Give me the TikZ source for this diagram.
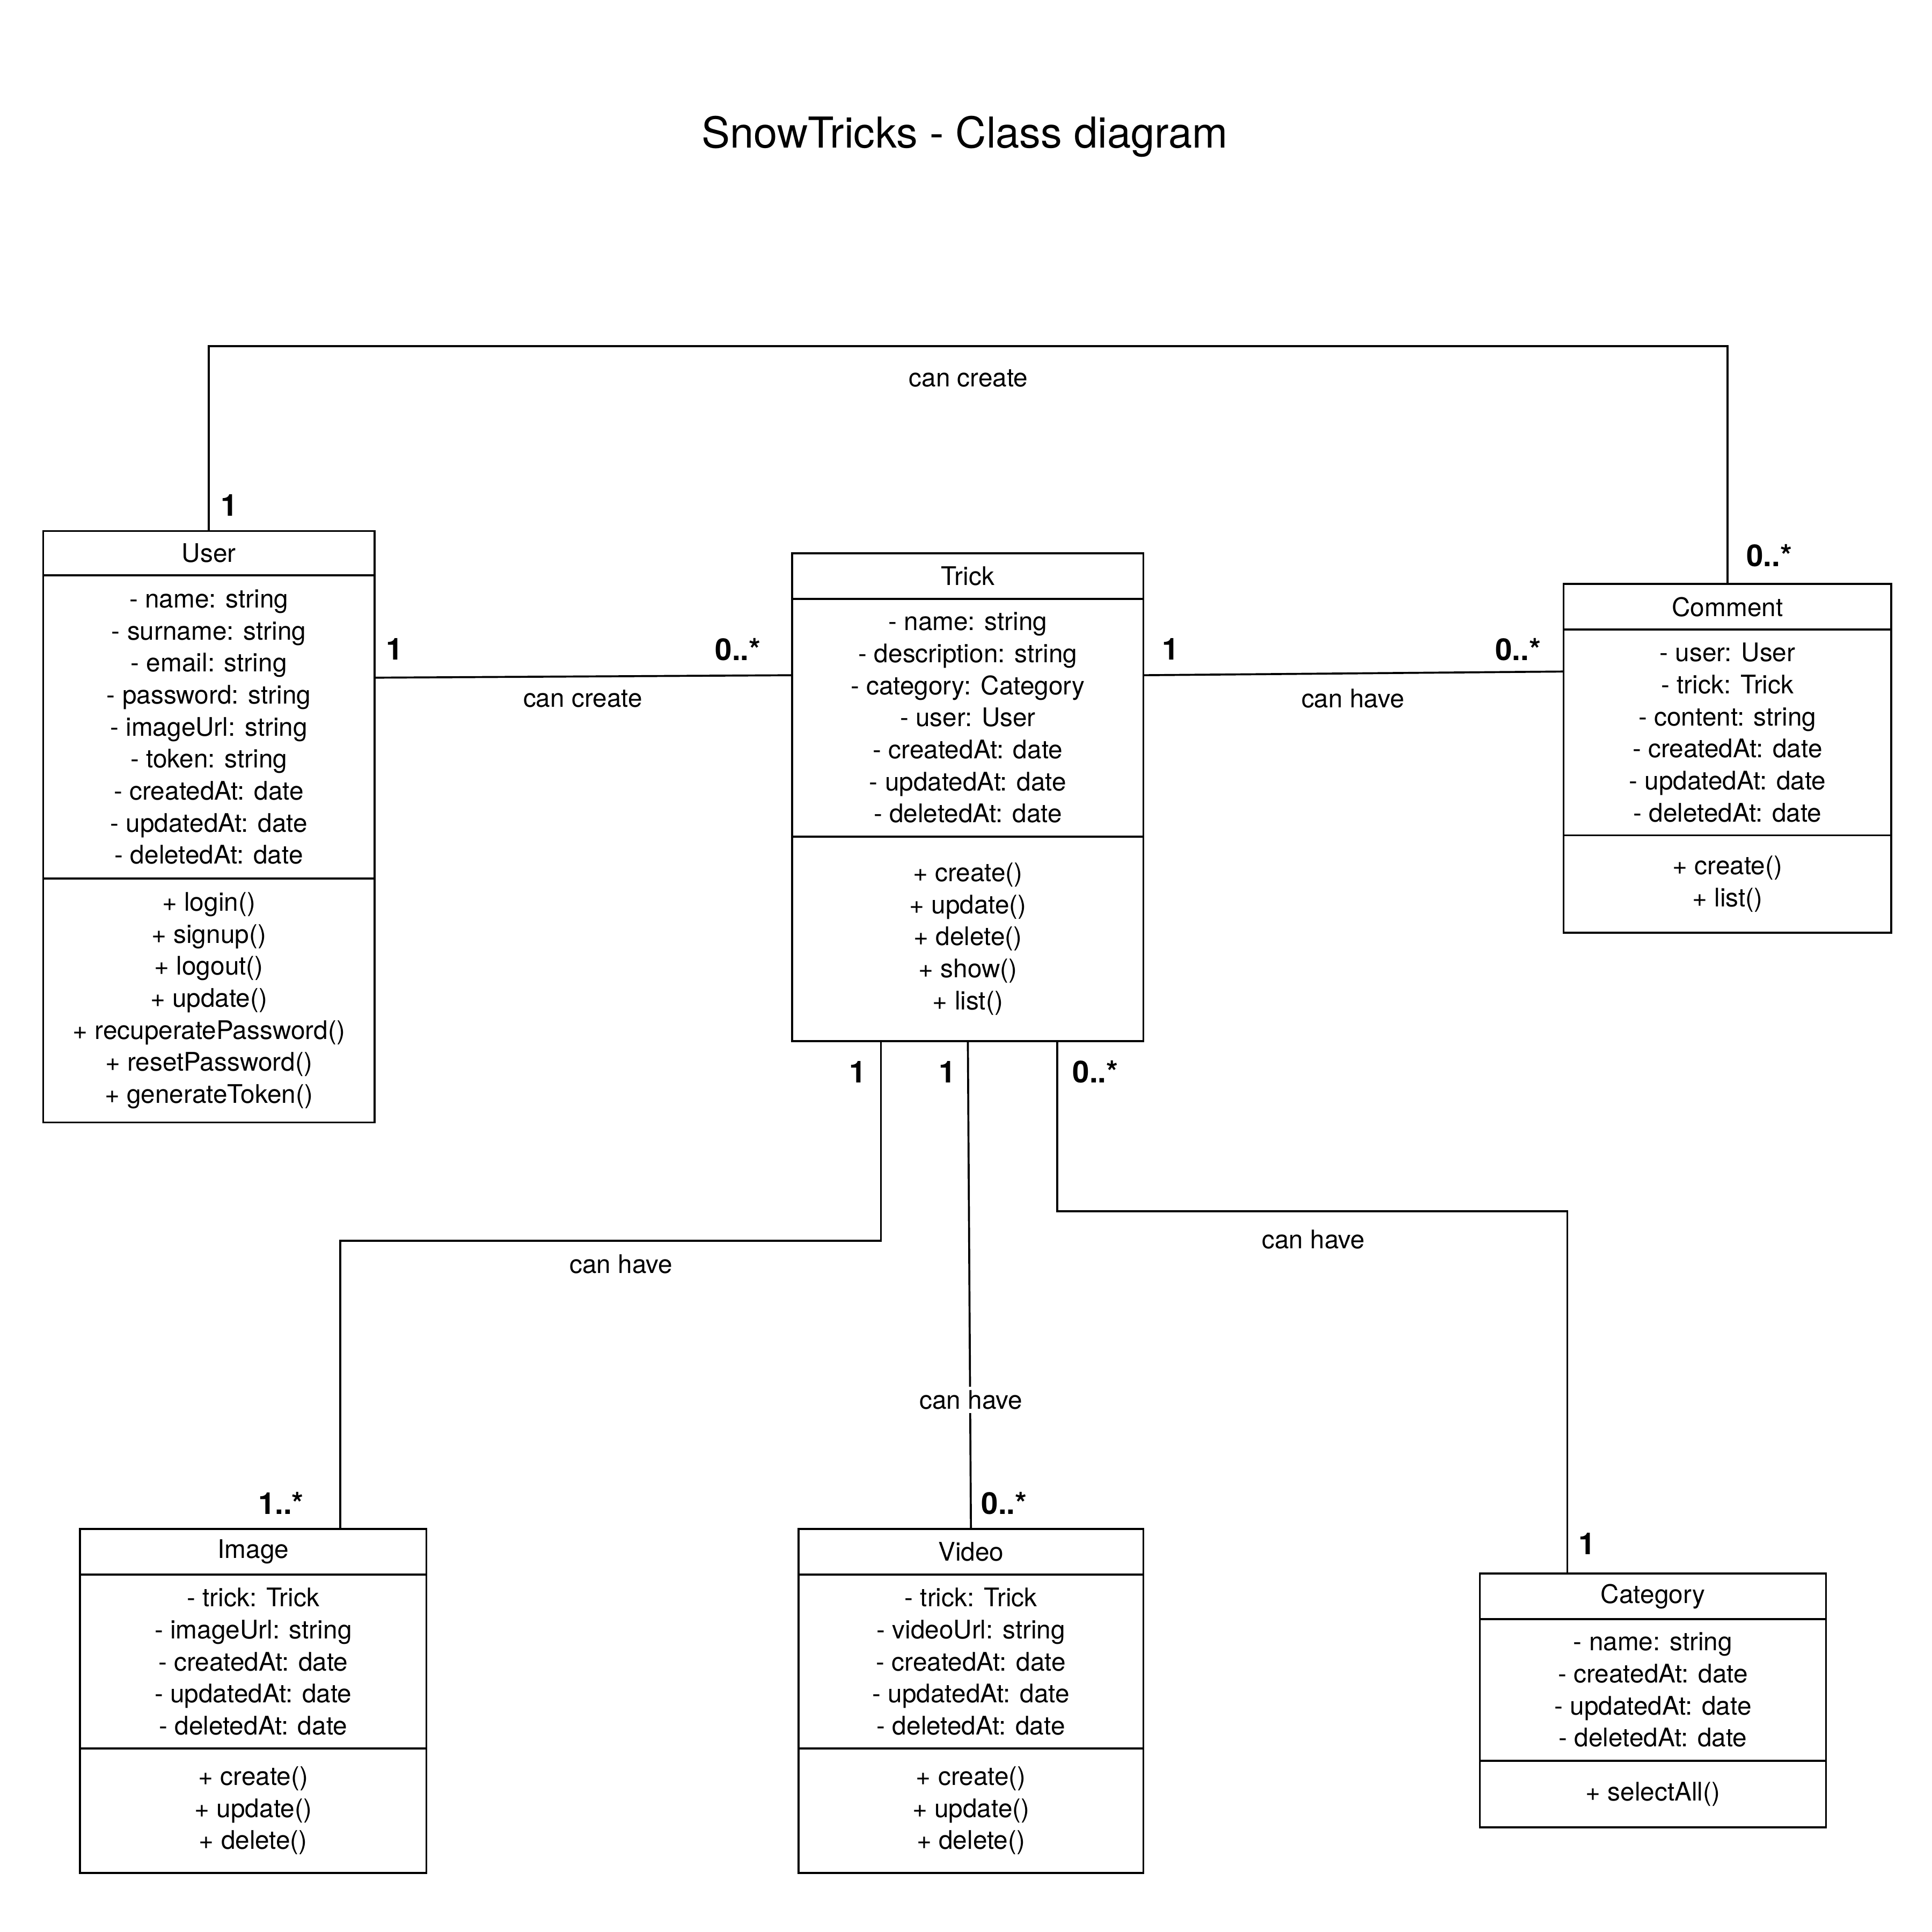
\documentclass[tikz,border=0pt]{standalone}
\usepackage{fontspec}
\setmainfont{TeX Gyre Heros}
\begin{document}
\begin{tikzpicture}[x=0.5pt,y=-0.5pt]
\tikzset{
  box/.style={draw, line width=0.8pt, anchor=north west, inner sep=0pt, outer sep=0pt, align=center,
    font=\fontsize{10.4pt}{13pt}\selectfont},
  mult/.style={font=\fontsize{12.3pt}{14pt}\selectfont\bfseries, inner sep=0pt},
  lbl/.style={font=\fontsize{10.4pt}{13pt}\selectfont, inner sep=1.5pt},
  conn/.style={line width=0.8pt},
}
\useasboundingbox (0,0) rectangle (1568,1568);

% Title
\node[font=\fontsize{17.3pt}{20pt}\selectfont] (title) at (783,111) {SnowTricks - Class diagram};

% User
\node[box, minimum width=134.5pt, minimum height=18pt] (userH) at (35,431) {User};
\node[box, minimum width=134.5pt, minimum height=123pt] (userA) at (userH.south west)
  {- name: string\\- surname: string\\- email: string\\- password: string\\- imageUrl: string\\- token: string\\- createdAt: date\\- updatedAt: date\\- deletedAt: date};
\node[box, minimum width=134.5pt, minimum height=99pt] (userM) at (userA.south west)
  {+ login()\\+ signup()\\+ logout()\\+ update()\\+ recuperatePassword()\\+ resetPassword()\\+ generateToken()};

% Trick
\node[box, minimum width=142.5pt, minimum height=18.5pt] (trickH) at (643,449) {Trick};
\node[box, minimum width=142.5pt, minimum height=96.5pt] (trickA) at (trickH.south west)
  {- name: string\\- description: string\\- category: Category\\- user: User\\- createdAt: date\\- updatedAt: date\\- deletedAt: date};
\node[box, minimum width=142.5pt, minimum height=83pt] (trickM) at (trickA.south west)
  {+ create()\\+ update()\\+ delete()\\+ show()\\+ list()};

% Comment
\node[box, minimum width=133pt, minimum height=18.5pt] (commentH) at (1269,474) {Comment};
\node[box, minimum width=133pt, minimum height=83.5pt] (commentA) at (commentH.south west)
  {- user: User\\- trick: Trick\\- content: string\\- createdAt: date\\- updatedAt: date\\- deletedAt: date};
\node[box, minimum width=133pt, minimum height=39.5pt] (commentM) at (commentA.south west)
  {+ create()\\+ list()};

% Image
\node[box, minimum width=140.5pt, minimum height=18.5pt] (imageH) at (65,1241) {Image};
\node[box, minimum width=140.5pt, minimum height=70.5pt] (imageA) at (imageH.south west)
  {- trick: Trick\\- imageUrl: string\\- createdAt: date\\- updatedAt: date\\- deletedAt: date};
\node[box, minimum width=140.5pt, minimum height=50.5pt] (imageM) at (imageA.south west)
  {+ create()\\+ update()\\+ delete()};

% Video
\node[box, minimum width=140pt, minimum height=18.5pt] (videoH) at (648,1241) {Video};
\node[box, minimum width=140pt, minimum height=70.5pt] (videoA) at (videoH.south west)
  {- trick: Trick\\- videoUrl: string\\- createdAt: date\\- updatedAt: date\\- deletedAt: date};
\node[box, minimum width=140pt, minimum height=50.5pt] (videoM) at (videoA.south west)
  {+ create()\\+ update()\\+ delete()};

% Category
\node[box, minimum width=140.5pt, minimum height=18.5pt] (catH) at (1201,1277) {Category};
\node[box, minimum width=140.5pt, minimum height=57.5pt] (catA) at (catH.south west)
  {- name: string\\- createdAt: date\\- updatedAt: date\\- deletedAt: date};
\node[box, minimum width=140.5pt, minimum height=27pt] (catM) at (catA.south west)
  {+ selectAll()};

% helper coordinates
\coordinate (yTop) at (0,281);
\coordinate (yImg) at (0,1007);
\coordinate (yCat) at (0,983);
\coordinate (imgIn) at ([xshift=35.25pt]imageH.north);
\coordinate (catIn) at ([xshift=-34.75pt]catH.north);

% Connectors
\draw[conn] (userH.north) |- (commentH.north |- yTop) -- (commentH.north);
\draw[conn] ([yshift=-41.5pt]userA.north east) -- ([yshift=-31pt]trickA.north west);
\draw[conn] ([yshift=-31pt]trickA.north east) -- ([yshift=-17pt]commentA.north west);
\draw[conn] ([xshift=-35.25pt]trickM.south) |- (imgIn |- yImg) -- (imgIn);
\draw[conn] (trickM.south) -- (videoH.north);
\draw[conn] ([xshift=36.25pt]trickM.south) |- (catIn |- yCat) -- (catIn);

% Connector labels
\node[lbl] (l1) at (786,307) {can create};
\node[lbl] (l2) at (473,567) {can create};
\node[lbl] (l3) at (1098,567) {can have};
\node[lbl] (l4) at (504,1026) {can have};
\node[lbl, fill=white] (l5) at (788,1136) {can have};
\node[lbl] (l6) at (1066,1006) {can have};

% Multiplicities
\node[mult] (m1) at (186,410) {1};
\node[mult] (m2) at (1436,451) {0..*};
\node[mult] (m3) at (320,527) {1};
\node[mult] (m4) at (599,527) {0..*};
\node[mult] (m5) at (950,527) {1};
\node[mult] (m6) at (1232,527) {0..*};
\node[mult] (m7) at (696,870) {1};
\node[mult] (m8) at (769,870) {1};
\node[mult] (m9) at (889,870) {0..*};
\node[mult] (m10) at (228,1220) {1..*};
\node[mult] (m11) at (815,1220) {0..*};
\node[mult] (m12) at (1288,1253) {1};
\end{tikzpicture}
\end{document}
